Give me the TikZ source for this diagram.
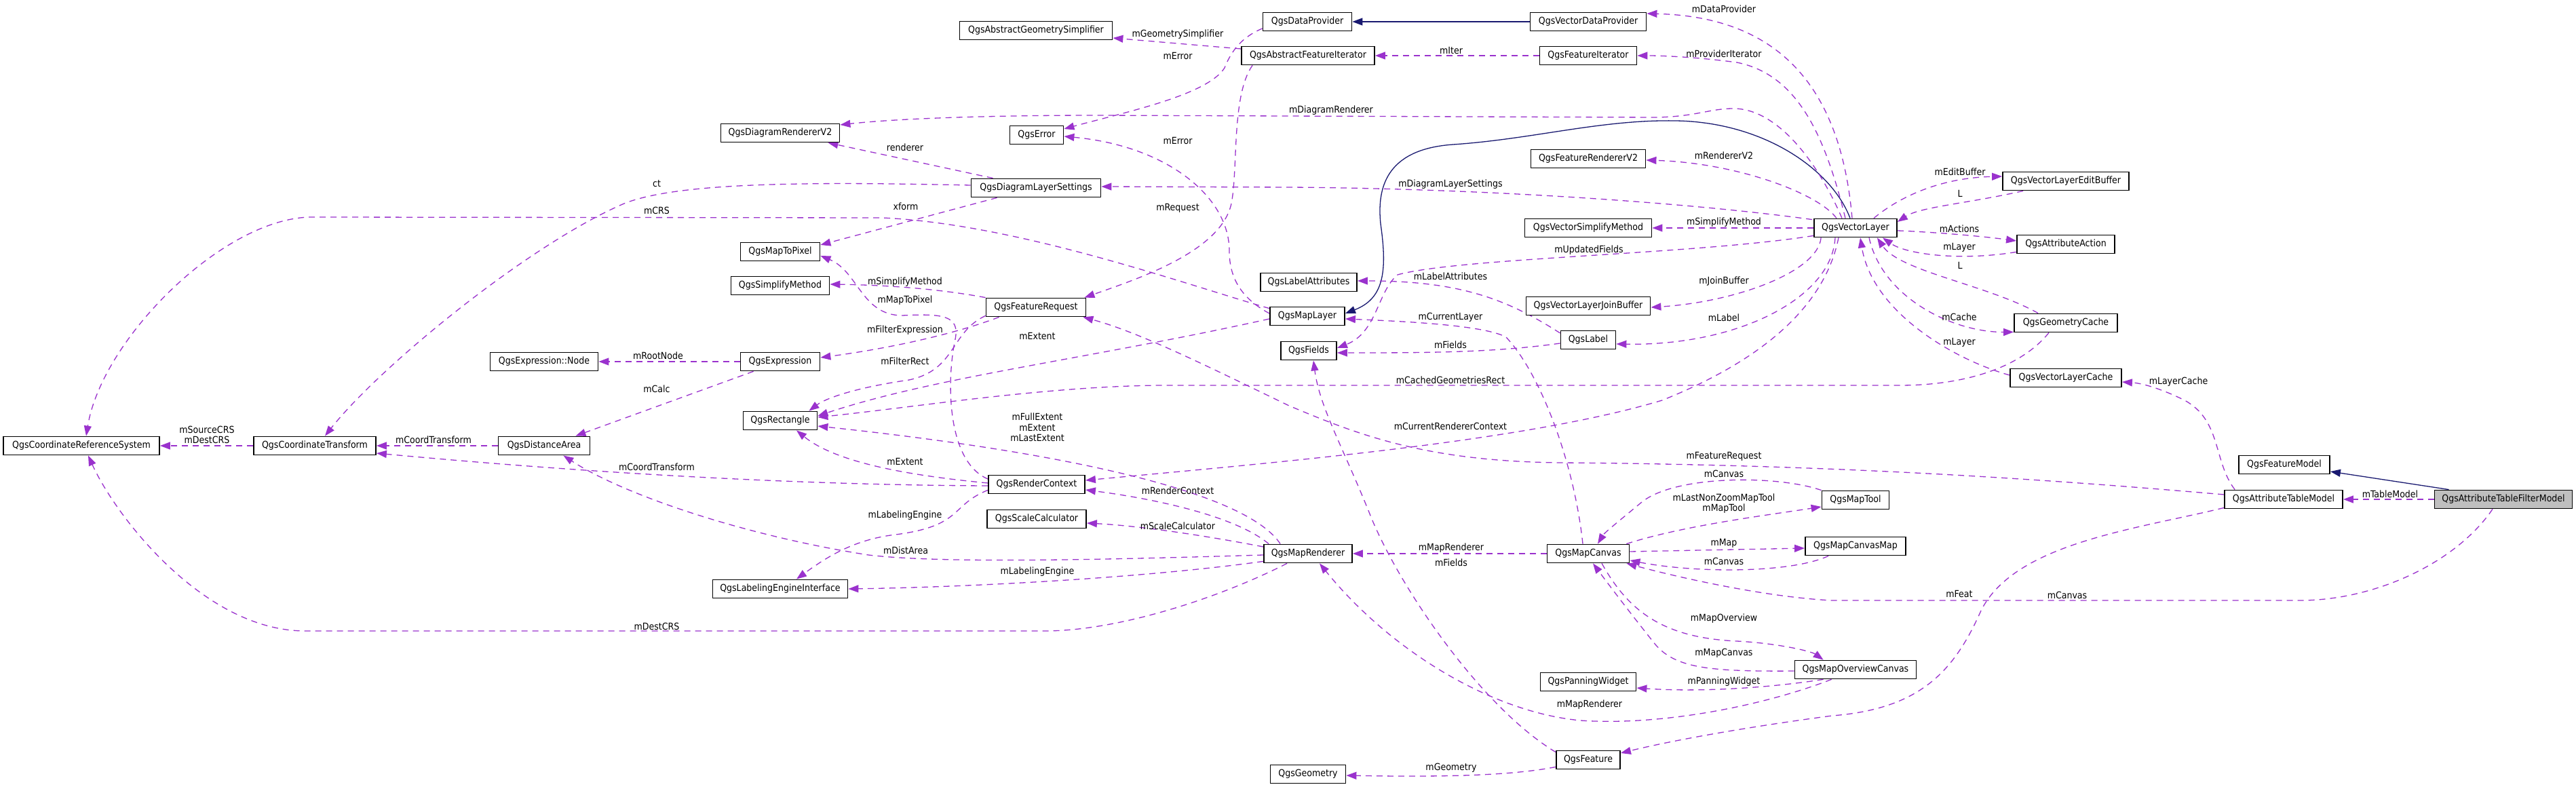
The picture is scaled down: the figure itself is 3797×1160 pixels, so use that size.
\documentclass[tikz,border=0pt]{standalone}
\usepackage{fontspec}
\usetikzlibrary{arrows.meta,calc}
\IfFontExistsTF{DejaVu Sans Condensed}{\newfontfamily\nfam{DejaVu Sans Condensed}}{\newfontfamily\nfam[FakeStretch=0.9]{DejaVu Sans}}
\newcommand{\nf}{\nfam\fontsize{7}{7.8}\selectfont}
\definecolor{usecol}{HTML}{9A32CD}
\definecolor{inhcol}{HTML}{191970}
\definecolor{selcol}{HTML}{BFBFBF}
\pgfdeclarelayer{bg}
\pgfsetlayers{bg,main}
\tikzset{
 cls/.style={draw=black, line width=0.9pt, fill=white, minimum height=13.5pt, inner sep=0pt, font=\nf},
 bw/.style={minimum width=#1*0.5pt},
 lab/.style={font=\nf, inner sep=0pt, align=center},
 usage/.style={draw=usecol, line width=0.65pt, dash pattern=on 4.5pt off 3.5pt, -{Triangle[length=7.5pt,width=5.5pt]}},
 inherit/.style={draw=inhcol, line width=0.65pt, -{Triangle[length=7.5pt,width=5.5pt]}},
}
\begin{document}
\begin{tikzpicture}[x=0.5pt,y=-0.5pt]
\useasboundingbox (0,0) rectangle (3797,1160);
% classes
\node[cls,bw=203,fill=selcol] (tfm) at (3690,736) {QgsAttributeTableFilterModel};
\node[cls,bw=134] (fm) at (3367,685) {QgsFeatureModel};
\node[cls,bw=174] (atm) at (3366,736) {QgsAttributeTableModel};
\node[cls,bw=164] (vlc) at (3045,557) {QgsVectorLayerCache};
\node[cls,bw=152] (gc) at (3045,476) {QgsGeometryCache};
\node[cls,bw=144] (aa) at (3045,360) {QgsAttributeAction};
\node[cls,bw=186] (eb) at (3045,267) {QgsVectorLayerEditBuffer};
\node[cls,bw=122] (vl) at (2735,336) {QgsVectorLayer};
\node[cls,bw=171] (vdp) at (2341,32) {QgsVectorDataProvider};
\node[cls,bw=143] (fi) at (2341,82) {QgsFeatureIterator};
\node[cls,bw=169] (frv2) at (2341,234) {QgsFeatureRendererV2};
\node[cls,bw=187] (vsm) at (2341,336) {QgsVectorSimplifyMethod};
\node[cls,bw=183] (jb) at (2341,451) {QgsVectorLayerJoinBuffer};
\node[cls,bw=81] (lbl) at (2341,501) {QgsLabel};
\node[cls,bw=99] (mt) at (2735,737) {QgsMapTool};
\node[cls,bw=121] (mc) at (2341,816) {QgsMapCanvas};
\node[cls,bw=148] (mcm) at (2735,805) {QgsMapCanvasMap};
\node[cls,bw=179] (moc) at (2735,987) {QgsMapOverviewCanvas};
\node[cls,bw=141] (pw) at (2341,1005) {QgsPanningWidget};
\node[cls,bw=94] (feat) at (2341,1120) {QgsFeature};
\node[cls,bw=111] (geom) at (1928,1141) {QgsGeometry};
\node[cls,bw=130] (mr) at (1928,816) {QgsMapRenderer};
\node[cls,bw=131] (dp) at (1927,32) {QgsDataProvider};
\node[cls,bw=196] (afi) at (1928,82) {QgsAbstractFeatureIterator};
\node[cls,bw=142] (la) at (1929,416) {QgsLabelAttributes};
\node[cls,bw=110] (ml) at (1927,466) {QgsMapLayer};
\node[cls,bw=82] (flds) at (1929,517) {QgsFields};
\node[cls,bw=225] (ags) at (1527,45) {QgsAbstractGeometrySimplifier};
\node[cls,bw=79] (err) at (1528,199) {QgsError};
\node[cls,bw=191] (dls) at (1527,277) {QgsDiagramLayerSettings};
\node[cls,bw=147] (fr) at (1527,453) {QgsFeatureRequest};
\node[cls,bw=142] (rc) at (1528,714) {QgsRenderContext};
\node[cls,bw=146] (sc) at (1528,765) {QgsScaleCalculator};
\node[cls,bw=175] (drv2) at (1150,196) {QgsDiagramRendererV2};
\node[cls,bw=117] (m2p) at (1150,371) {QgsMapToPixel};
\node[cls,bw=145] (sm) at (1150,421) {QgsSimplifyMethod};
\node[cls,bw=117] (expr) at (1150,533) {QgsExpression};
\node[cls,bw=109] (rect) at (1150,620) {QgsRectangle};
\node[cls,bw=199] (lei) at (1150,868) {QgsLabelingEngineInterface};
\node[cls,bw=159] (enode) at (802,533) {QgsExpression::Node};
\node[cls,bw=135] (da) at (802,657) {QgsDistanceArea};
\node[cls,bw=180] (ct) at (464,657) {QgsCoordinateTransform};
\node[cls,bw=230] (crs) at (120,657) {QgsCoordinateReferenceSystem};
% labels
\node[lab] (l1) at (2541,13) {mDataProvider};
\node[lab] (l2) at (2139,75) {mIter};
\node[lab] (l3) at (2541,79) {mProviderIterator};
\node[lab] (l4) at (1736,51) {mGeometrySimplifier};
\node[lab] (l5) at (1736,83) {mError};
\node[lab] (l6) at (1962,163) {mDiagramRenderer};
\node[lab] (l7) at (1334,217) {renderer};
\node[lab] (l8) at (1736,208) {mError};
\node[lab] (l9) at (2541,229) {mRendererV2};
\node[lab] (l10) at (968,271) {ct};
\node[lab] (l11) at (2138,272) {mDiagramLayerSettings};
\node[lab] (l12) at (1335,304) {xform};
\node[lab] (l13) at (968,310) {mCRS};
\node[lab] (l14) at (1736,307) {mRequest};
\node[lab] (l15) at (2541,328) {mSimplifyMethod};
\node[lab] (l16) at (2342,369) {mUpdatedFields};
\node[lab] (l17) at (2889,253) {mEditBuffer};
\node[lab] (l18) at (2889,285) {L};
\node[lab] (l19) at (2888,337) {mActions};
\node[lab] (l20) at (2888,365) {mLayer};
\node[lab] (l21) at (2889,391) {L};
\node[lab] (l22) at (2138,407) {mLabelAttributes};
\node[lab] (l23) at (2541,415) {mJoinBuffer};
\node[lab] (l24) at (1334,416) {mSimplifyMethod};
\node[lab] (l25) at (1334,443) {mMapToPixel};
\node[lab] (l26) at (2138,468) {mCurrentLayer};
\node[lab] (l27) at (2541,468) {mLabel};
\node[lab] (l28) at (2888,467) {mCache};
\node[lab] (l29) at (1334,487) {mFilterExpression};
\node[lab] (l30) at (1529,495) {mExtent};
\node[lab] (l31) at (2888,505) {mLayer};
\node[lab] (l32) at (2138,508) {mFields};
\node[lab] (l33) at (970,524) {mRootNode};
\node[lab] (l34) at (1334,532) {mFilterRect};
\node[lab] (l35) at (2138,560) {mCachedGeometriesRect};
\node[lab] (l36) at (3211,563) {mLayerCache};
\node[lab] (l37) at (968,573) {mCalc};
\node[lab] (l38) at (1529,630) {mFullExtent\\mExtent\\mLastExtent};
\node[lab] (l39) at (2138,628) {mCurrentRendererContext};
\node[lab] (l40) at (305,641) {mSourceCRS\\mDestCRS};
\node[lab] (l41) at (639,648) {mCoordTransform};
\node[lab] (l42) at (2541,673) {mFeatureRequest};
\node[lab] (l43) at (1334,680) {mExtent};
\node[lab] (l44) at (968,688) {mCoordTransform};
\node[lab] (l45) at (2541,698) {mCanvas};
\node[lab] (l46) at (1736,723) {mRenderContext};
\node[lab] (l47) at (3523,728) {mTableModel};
\node[lab] (l48) at (2541,742) {mLastNonZoomMapTool\\mMapTool};
\node[lab] (l49) at (1334,760) {mLabelingEngine};
\node[lab] (l50) at (1736,775) {mScaleCalculator};
\node[lab] (l51) at (2541,801) {mMap};
\node[lab] (l52) at (2139,808) {mMapRenderer};
\node[lab] (l53) at (1335,811) {mDistArea};
\node[lab] (l54) at (2541,827) {mCanvas};
\node[lab] (l55) at (2139,829) {mFields};
\node[lab] (l56) at (1529,843) {mLabelingEngine};
\node[lab] (l57) at (2888,875) {mFeat};
\node[lab] (l58) at (3047,877) {mCanvas};
\node[lab] (l59) at (2541,912) {mMapOverview};
\node[lab] (l60) at (968,923) {mDestCRS};
\node[lab] (l61) at (2541,963) {mMapCanvas};
\node[lab] (l62) at (2541,1005) {mPanningWidget};
\node[lab] (l63) at (2343,1039) {mMapRenderer};
\node[lab] (l64) at (2139,1132) {mGeometry};
\begin{pgfonlayer}{bg}
% inheritance
\draw[inherit] (vdp.west) -- (dp.east);
\draw[inherit] ($(tfm.north west)+(22,0)$) -- ($(fm.east)+(0,10)$);
\draw[inherit] ($(vl.north)+(-8,0)$) .. controls (2700,250) and (2600,180) .. (2470,178) .. controls (2360,176) and (2260,205) .. (2142,213) .. controls (2040,220) and (2030,280) .. (2035,330) .. controls (2045,400) and (2040,440) .. ($(ml.east)+(0,-4)$);
% usage
\draw[usage] (fi.west) -- (afi.east);
\draw[usage] ($(afi.west)+(0,-10)$) -- ($(ags.east)+(0,11)$);
\draw[usage] ($(dp.west)+(0,10)$) .. controls (1830,55) and (1815,75) .. (1805,100) .. controls (1780,140) and (1660,165) .. ($(err.east)+(0,-9)$);
\draw[usage] ($(ml.west)+(0,-4)$) .. controls (1830,440) and (1812,410) .. (1812,370) .. controls (1812,290) and (1720,215) .. ($(err.east)+(0,2)$);
\draw[usage] ($(afi.south west)+(17,0)$) .. controls (1815,140) and (1825,250) .. (1815,300) .. controls (1800,370) and (1680,410) .. ($(fr.north east)+(-3,0)$);
\draw[usage] ($(vl.north)+(-20,0)$) .. controls (2680,240) and (2620,160) .. (2555,160) .. controls (2520,160) and (2500,172) .. (2440,173) -- (1620,170) .. controls (1450,170) and (1320,175) .. ($(drv2.east)+(0,-12)$);
\draw[usage] ($(dls.north west)+(33,0)$) -- ($(drv2.south east)+(-18,0)$);
\draw[usage] ($(dls.west)+(0,-4)$) .. controls (1200,268) and (1000,268) .. (920,300) .. controls (780,360) and (560,540) .. ($(ct.north)+(15,0)$);
\draw[usage] ($(dls.south west)+(39,0)$) -- ($(m2p.east)+(0,-10)$);
\draw[usage] ($(ml.north west)+(0,3)$) .. controls (1750,420) and (1500,330) .. (1300,321) -- (460,320) .. controls (330,320) and (150,500) .. ($(crs.north)+(7,0)$);
\draw[usage] ($(vl.north west)+(-2,2)$) .. controls (2500,300) and (2200,278) .. (1900,276) -- ($(dls.east)+(0,-2)$);
\draw[usage] ($(vl.north)+(-5,0)$) .. controls (2715,150) and (2640,25) .. ($(vdp.east)+(0,-12)$);
\draw[usage] ($(vl.north)+(-15,0)$) .. controls (2690,200) and (2650,110) .. (2560,92) .. controls (2500,84) and (2450,82) .. (fi.east);
\draw[usage] ($(vl.north)+(-28,0)$) .. controls (2680,285) and (2560,240) .. ($(frv2.east)+(0,2)$);
\draw[usage] (vl.west) -- (vsm.east);
\draw[usage] ($(vl.south west)+(0,-3)$) .. controls (2500,375) and (2150,380) .. (2060,405) .. controls (2030,430) and (2030,490) .. ($(flds.east)+(0,-4)$);
\draw[usage] ($(vl.north east)+(-35,0)$) .. controls (2800,290) and (2860,262) .. ($(eb.west)+(0,-7)$);
\draw[usage] ($(eb.south west)+(31,0)$) .. controls (2900,300) and (2830,305) .. ($(vl.east)+(0,-9)$);
\draw[usage] ($(vl.east)+(0,4)$) .. controls (2850,342) and (2920,348) .. ($(aa.west)+(0,-5)$);
\draw[usage] ($(aa.south west)+(0,-3)$) .. controls (2890,385) and (2810,375) .. ($(vl.south east)+(-22,0)$);
\draw[usage] ($(gc.north west)+(36,0)$) .. controls (2930,420) and (2800,400) .. ($(vl.south east)+(-30,0)$);
\draw[usage] ($(vl.south)+(20,0)$) .. controls (2775,440) and (2880,490) .. ($(gc.south west)+(0,-1)$);
\draw[usage] ($(vlc.west)+(0,-4)$) .. controls (2880,530) and (2760,460) .. ($(vl.south)+(7,0)$);
\draw[usage] ($(gc.south)+(-25,0)$) .. controls (2980,540) and (2900,568) .. (2800,568) -- (1720,568) .. controls (1550,568) and (1350,600) .. ($(rect.east)+(0,-5)$);
\draw[usage] ($(atm.north west)+(16,0)$) .. controls (3262,680) and (3275,620) .. (3220,590) .. controls (3190,575) and (3160,565) .. ($(vlc.east)+(0,6)$);
\draw[usage] (tfm.west) -- (atm.east);
\draw[usage] ($(tfm.south)+(-16,0)$) .. controls (3620,830) and (3500,885) .. (3390,885) -- (2700,885) .. controls (2600,880) and (2470,850) .. ($(mc.south east)+(-5,0)$);
\draw[usage] ($(atm.west)+(0,-7)$) .. controls (3000,705) and (2700,685) .. (2300,682) .. controls (2100,680) and (2000,640) .. (1900,598) .. controls (1780,540) and (1680,490) .. ($(fr.south east)+(-5,0)$);
\draw[usage] ($(atm.south west)+(0,-2)$) .. controls (3150,780) and (2970,800) .. (2920,900) .. controls (2880,990) and (2830,1045) .. (2700,1055) .. controls (2550,1075) and (2450,1095) .. ($(feat.east)+(0,-10)$);
\draw[usage] ($(vl.south)+(-25,0)$) .. controls (2690,450) and (2600,530) .. (2450,590) .. controls (2250,650) and (1900,680) .. ($(rc.east)+(0,-6)$);
\draw[usage] ($(vl.south west)+(11,0)$) .. controls (2680,400) and (2560,445) .. ($(jb.east)+(0,2)$);
\draw[usage] ($(vl.south)+(-30,0)$) .. controls (2700,440) and (2560,510) .. ($(lbl.east)+(0,6)$);
\draw[usage] ($(lbl.west)+(0,-10)$) .. controls (2220,440) and (2150,414) .. ($(la.east)+(0,-2)$);
\draw[usage] ($(lbl.west)+(0,5)$) .. controls (2200,520) and (2100,520) .. ($(flds.east)+(0,3)$);
\draw[usage] ($(mc.north)+(-8,0)$) .. controls (2320,680) and (2270,550) .. (2220,497) .. controls (2190,480) and (2080,474) .. ($(ml.east)+(0,4)$);
\draw[usage] ($(feat.north west)+(0,3)$) .. controls (2180,1040) and (2060,860) .. (2020,760) .. controls (1980,660) and (1945,600) .. ($(flds.south)+(7,0)$);
\draw[usage] (mc.west) -- (mr.east);
\draw[usage] ($(mc.east)+(0,-3)$) -- ($(mcm.west)+(0,3)$);
\draw[usage] ($(mcm.south west)+(35,0)$) .. controls (2640,845) and (2500,845) .. ($(mc.east)+(0,10)$);
\draw[usage] ($(mc.north east)+(-5,0)$) .. controls (2480,775) and (2600,760) .. ($(mt.west)+(0,10)$);
\draw[usage] (mt.north west) .. controls (2620,700) and (2470,700) .. (2420,740) .. controls (2390,765) and (2365,785) .. ($(mc.north)+(14,0)$);
\draw[usage] ($(mc.south)+(20,0)$) .. controls (2400,900) and (2450,940) .. (2560,945) .. controls (2620,948) and (2670,960) .. ($(moc.north west)+(43,0)$);
\draw[usage] ($(moc.west)+(0,2)$) .. controls (2520,990) and (2470,985) .. (2440,950) .. controls (2400,900) and (2370,860) .. ($(mc.south)+(7,0)$);
\draw[usage] ($(moc.south west)+(43,0)$) .. controls (2600,1015) and (2500,1020) .. ($(pw.east)+(0,9)$);
\draw[usage] ($(moc.south west)+(55,0)$) .. controls (2600,1040) and (2450,1070) .. (2330,1062) .. controls (2200,1050) and (2050,960) .. ($(mr.south)+(17,0)$);
\draw[usage] ($(feat.south west)+(0,-4)$) .. controls (2220,1145) and (2100,1145) .. ($(geom.east)+(0,2)$);
\draw[usage] ($(mr.north west)+(25,0)$) .. controls (1840,730) and (1600,670) .. ($(rect.east)+(0,8)$);
\draw[usage] ($(mr.north west)+(8,0)$) .. controls (1820,760) and (1700,735) .. ($(rc.east)+(0,8)$);
\draw[usage] ($(mr.west)+(0,-10)$) .. controls (1780,790) and (1680,775) .. ($(sc.east)+(0,6)$);
\draw[usage] ($(mr.west)+(0,2)$) .. controls (1600,826) and (1380,830) .. (1280,818) .. controls (1100,790) and (920,730) .. ($(da.south east)+(-40,0)$);
\draw[usage] ($(mr.south west)+(0,-3)$) .. controls (1700,850) and (1450,865) .. (lei.east);
\draw[usage] ($(mr.south west)+(35,0)$) .. controls (1800,880) and (1650,930) .. (1540,930) -- (450,930) .. controls (300,930) and (170,760) .. ($(crs.south)+(10,0)$);
\draw[usage] ($(fr.south west)+(0,-2)$) .. controls (1400,490) and (1410,545) .. (1340,560) .. controls (1270,570) and (1220,585) .. ($(rect.north east)+(-13,0)$);
\draw[usage] ($(fr.south west)+(20,0)$) .. controls (1400,495) and (1300,515) .. ($(expr.east)+(0,-6)$);
\draw[usage] (fr.north west) .. controls (1380,425) and (1300,420) .. ($(sm.east)+(0,-2)$);
\draw[usage] ($(rc.west)+(0,-8)$) .. controls (1395,680) and (1395,560) .. (1408,500) .. controls (1415,465) and (1390,462) .. (1330,465) .. controls (1270,465) and (1265,400) .. ($(m2p.east)+(0,6)$);
\draw[usage] ($(ml.west)+(0,4)$) .. controls (1600,530) and (1380,555) .. ($(rect.east)+(0,-7)$);
\draw[usage] ($(rc.west)+(0,-2)$) .. controls (1330,700) and (1230,680) .. ($(rect.south)+(24,0)$);
\draw[usage] ($(rc.west)+(0,2)$) .. controls (1200,715) and (900,700) .. ($(ct.east)+(0,11)$);
\draw[usage] ($(rc.south west)+(0,-6)$) .. controls (1400,745) and (1420,775) .. (1320,788) .. controls (1260,795) and (1220,820) .. ($(lei.north)+(24,0)$);
\draw[usage] (da.west) -- (ct.east);
\draw[usage] (ct.west) -- (crs.east);
\draw[usage] (expr.west) -- (enode.east);
\draw[usage] ($(expr.south west)+(20,0)$) -- ($(da.north east)+(-22,0)$);
\end{pgfonlayer}
\end{tikzpicture}
\end{document}
